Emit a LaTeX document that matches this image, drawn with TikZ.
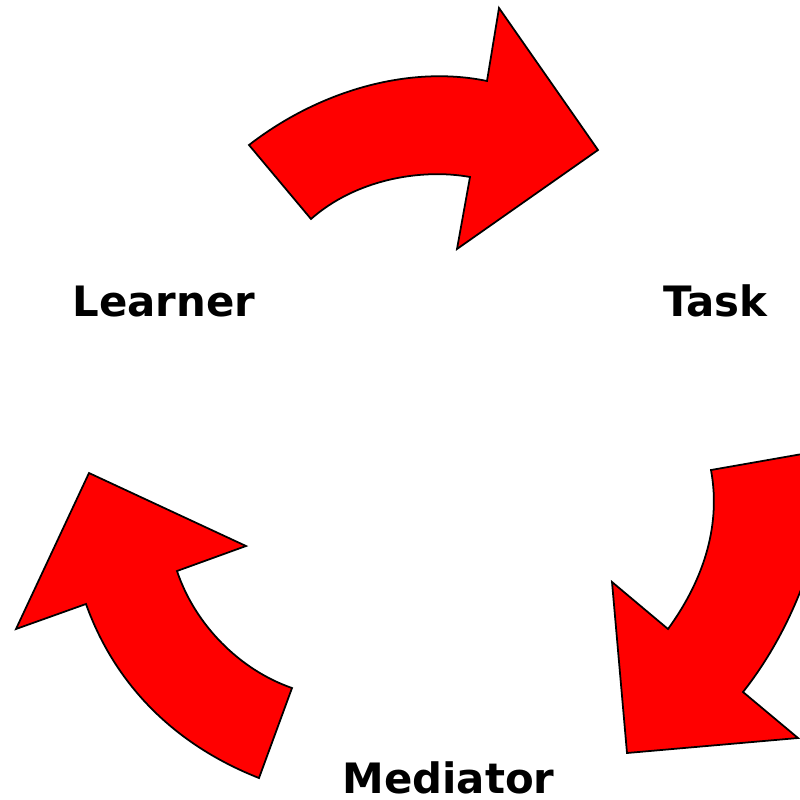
\documentclass[tikz,border=0pt]{standalone}
\usepackage{fontspec}
\setmainfont{DejaVu Sans}
\begin{document}
\begin{tikzpicture}[x=0.01cm,y=-0.01cm,
  arr/.style={fill=red,draw=black,line width=0.5pt,line join=miter},
  lbl/.style={font=\fontsize{11.9}{14}\selectfont\bfseries,anchor=base,inner sep=0pt}]
\useasboundingbox (0,0) rectangle (800,800);
\clip (0,0) rectangle (800,800);
\node[lbl] (L) at (164,316) {Learner};
\node[lbl] (T) at (715.5,316) {Task};
\node[lbl] (M) at (448.5,793) {Mediator};
\draw[arr] (249,145) .. controls (320,90) and (410,65) .. (487,81) -- (499,8) -- (598,150)
  -- (457,249) -- (470,177) .. controls (420,168) and (355,180) .. (311,219) -- cycle;
\draw[arr] (711,470) -- (825,450) .. controls (832,520) and (800,620) .. (743,692) -- (798,738)
  -- (627,753) -- (612,582) -- (668,629) .. controls (700,585) and (722,530) .. (711,470) -- cycle;
\draw[arr] (259,778) .. controls (175,745) and (115,685) .. (86,604) -- (16,629) -- (89,473)
  -- (246,546) -- (177,571) .. controls (195,625) and (240,670) .. (292,688) -- cycle;
\end{tikzpicture}
\end{document}
